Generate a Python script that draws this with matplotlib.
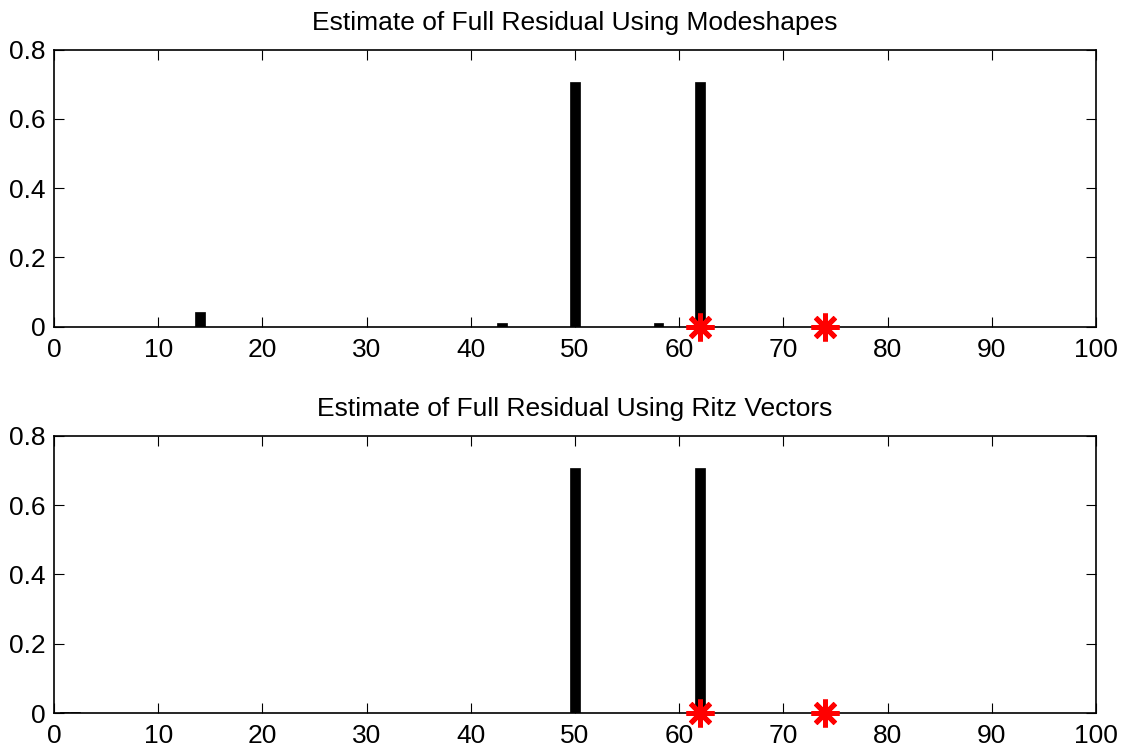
import matplotlib.pyplot as plt
import numpy as np

plt.rcParams['font.family'] = ['Liberation Sans', 'DejaVu Sans']
plt.rcParams['font.size'] = 18

# Data
modes_x = [14, 43, 50, 58, 62]
modes_y = [0.043, 0.009, 0.707, 0.009, 0.707]

ritz_x = [1, 2, 14, 50, 62]
ritz_y = [0.003, 0.003, 0.002, 0.707, 0.707]

marker_x = [62, 74]
marker_y = [0, 0]

titles = ['Estimate of Full Residual Using Modeshapes',
          'Estimate of Full Residual Using Ritz Vectors']
xticks = np.arange(0, 101, 10)
yticks = [0, 0.2, 0.4, 0.6, 0.8]
ytick_labels = ['0', '0.2', '0.4', '0.6', '0.8']

fig = plt.figure(figsize=(11.28, 7.56), dpi=100)
ax1 = fig.add_axes([0.0479, 0.5681, 0.9237, 0.3662])
ax2 = fig.add_axes([0.0479, 0.0565, 0.9237, 0.3672])

for ax, xs, ys, title in [(ax1, modes_x, modes_y, titles[0]),
                          (ax2, ritz_x, ritz_y, titles[1])]:
    ax.bar(xs, ys, width=0.9, color='black', edgecolor='black',
           linewidth=0.5, zorder=2)
    ax.plot(marker_x, marker_y, linestyle='none', marker=(8, 2, 0),
            markersize=20, markeredgewidth=3.6, color='red',
            clip_on=False, zorder=4)
    ax.set_xlim(0, 100)
    ax.set_ylim(0, 0.8)
    ax.set_xticks(xticks)
    ax.set_yticks(yticks)
    ax.set_yticklabels(ytick_labels)
    ax.tick_params(direction='in', length=7, width=0.8, top=True, right=True,
                   labelsize=19)
    ax.tick_params(axis='x', pad=8)
    ax.tick_params(axis='y', pad=6)
    for s in ax.spines.values():
        s.set_linewidth(1.2)
    ax.set_title(title, fontsize=19, pad=14)

fig.savefig('out.png', dpi=100)
